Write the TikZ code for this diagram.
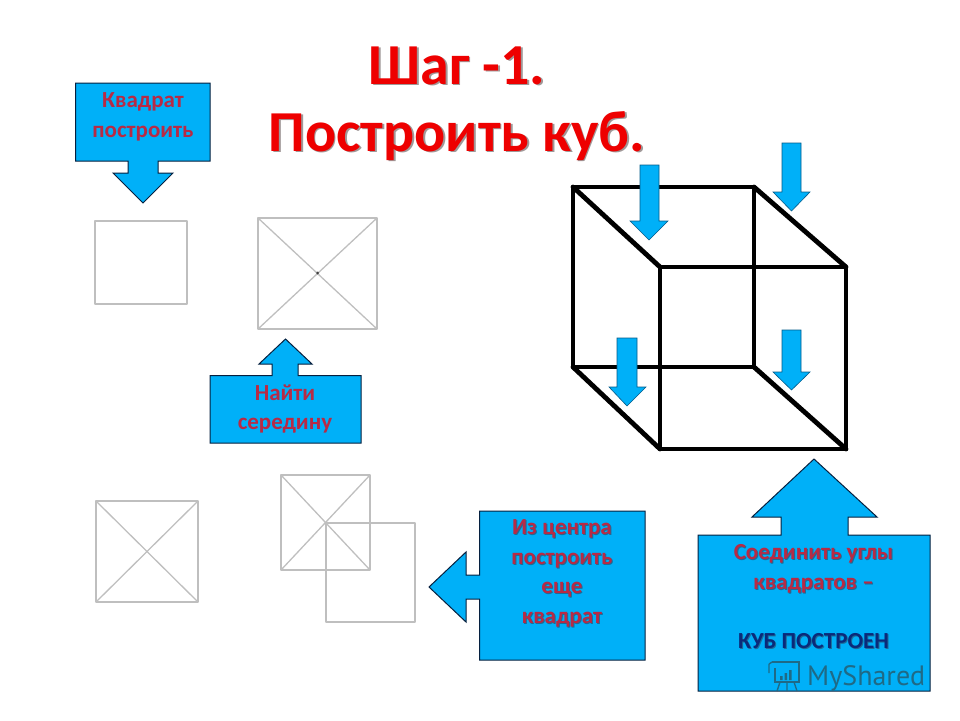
\documentclass[tikz,border=0pt]{standalone}
\usepackage{fontspec}
\setmainfont{Carlito}
\newfontfamily\wmfont{PT Sans}
\definecolor{calloutblue}{HTML}{00B0F8}
\definecolor{calloutedge}{HTML}{06203F}
\definecolor{titlered}{HTML}{EE0000}
\definecolor{titleshade}{HTML}{A09898}
\definecolor{labelred}{HTML}{B82A45}
\definecolor{labelshade}{HTML}{1C6C98}
\definecolor{labelnavy}{HTML}{0A2A7A}
\definecolor{sqgray}{HTML}{BFBFBF}
\definecolor{wmteal}{HTML}{1F6A86}
\newcommand\shadowed[3]{\makebox[0pt][l]{\raisebox{-#2}{\kern#2\textcolor{#3}{#1}}}#1}
\tikzset{
  callout/.style={fill=calloutblue,draw=calloutedge,line width=1pt,line join=miter},
  bluearrow/.style={fill=calloutblue,draw=calloutedge!60!calloutblue,line width=0.6pt},
  sq/.style={draw=sqgray,line width=1.8pt,line join=round},
  diag/.style={draw=sqgray,line width=1.3pt},
  cubeline/.style={draw=black,line width=4.8pt,line cap=round,line join=round},
  titletext/.style={font=\fontsize{58}{67}\selectfont\bfseries,text=titlered,align=center,inner sep=0pt},
  lab/.style={font=\fontsize{23}{29.5}\selectfont\bfseries,text=labelred,align=center,inner sep=0pt},
}
\begin{document}
\begin{tikzpicture}[x=1pt,y=-1pt]
\useasboundingbox (0,0) rectangle (960,720);
% title
\node[titletext] (title) at (457,104) {\shadowed{Шаг -1.}{1.5pt}{titleshade}\\\shadowed{Построить куб.}{1.5pt}{titleshade}};
% plain squares
\draw[sq] (95,221) rectangle (187,304);
\draw[sq] (258,218) rectangle (377,329);
\draw[diag] (258,218) -- (377,329) (377,218) -- (258,329);
\fill[black!75] (317.5,273) circle (1.5);
\draw[sq] (96,501) rectangle (198,602);
\draw[diag] (96,501) -- (198,602) (198,501) -- (96,602);
\draw[sq] (281,475) rectangle (370,570);
\draw[diag] (281,475) -- (370,570) (370,475) -- (281,570);
\draw[sq] (326,523) rectangle (415,622);
% cube
\draw[cubeline] (573,187) rectangle (754,367);
\draw[cubeline] (660,267) rectangle (846,449);
\draw[cubeline] (573,187) -- (660,267) (754,187) -- (846,267) (573,367) -- (660,449) (754,367) -- (846,449);
% small arrows
\draw[bluearrow] (640,165) -- (659,165) -- (659,221) -- (668,221) -- (649,240) -- (630,221) -- (640,221) -- cycle;
\draw[bluearrow] (782,143) -- (801,143) -- (801,192) -- (810,192) -- (791.5,211) -- (773,192) -- (782,192) -- cycle;
\draw[bluearrow] (617,338) -- (637,338) -- (637,387) -- (646,387) -- (627,406) -- (609,387) -- (617,387) -- cycle;
\draw[bluearrow] (782,330) -- (801,330) -- (801,372) -- (810,372) -- (791.5,390) -- (773,372) -- (782,372) -- cycle;
% callouts
\draw[callout] (75.5,83) -- (210,83) -- (210,161) -- (158,161) -- (158,173) -- (173,173) -- (143,203) -- (113,173) -- (128,173) -- (128,161) -- (75.5,161) -- cycle;
\draw[callout] (210,375.5) -- (272,375.5) -- (272,364) -- (259,364) -- (285.5,339) -- (312,364) -- (298,364) -- (298,375.5) -- (361,375.5) -- (361,443) -- (210,443) -- cycle;
\draw[callout] (479.5,511) -- (645,511) -- (645,660) -- (479.5,660) -- (479.5,599) -- (466,599) -- (466,622) -- (429,587) -- (466,552) -- (466,575) -- (479.5,575) -- cycle;
\draw[callout] (698,535) -- (781,535) -- (781,517) -- (752,517) -- (814,459) -- (877,517) -- (848,517) -- (848,535) -- (930,535) -- (930,691) -- (698,691) -- cycle;
% labels
\node[lab] (kvadrat) at (143,117) {Квадрат\\построить};
\node[lab] (nayti) at (285,409) {Найти\\середину};
\node[lab] (center) at (562,574) {\shadowed{Из центра}{1pt}{labelshade}\\\shadowed{построить}{1pt}{labelshade}\\\shadowed{еще}{1pt}{labelshade}\\\shadowed{квадрат}{1pt}{labelshade}};
\node[lab] (join) at (813.5,597) {\shadowed{Соединить углы}{1pt}{labelshade}\\\shadowed{квадратов –}{1pt}{labelshade}\\\strut\\\textcolor{labelnavy}{\shadowed{КУБ ПОСТРОЕН}{1pt}{labelshade}}};
% watermark
\begin{scope}[draw=wmteal,line width=1.4pt]
\draw (772,662) -- (799,662) -- (799,682) -- (775,682) -- (775,668);
\draw (769,664) -- (769,673) (769,664) -- (772,662);
\draw (780,682) -- (777,691) (794,682) -- (797,691) (787,682) -- (787,691);
\fill[wmteal] (780,676) rectangle (782.5,680) (784.5,673) rectangle (787,680) (789,670) rectangle (791.5,680);
\end{scope}
\node[font=\wmfont\fontsize{28}{30}\selectfont,text=wmteal,anchor=base west,inner sep=0pt] (wm) at (807,685) {MyShared};
\end{tikzpicture}
\end{document}
